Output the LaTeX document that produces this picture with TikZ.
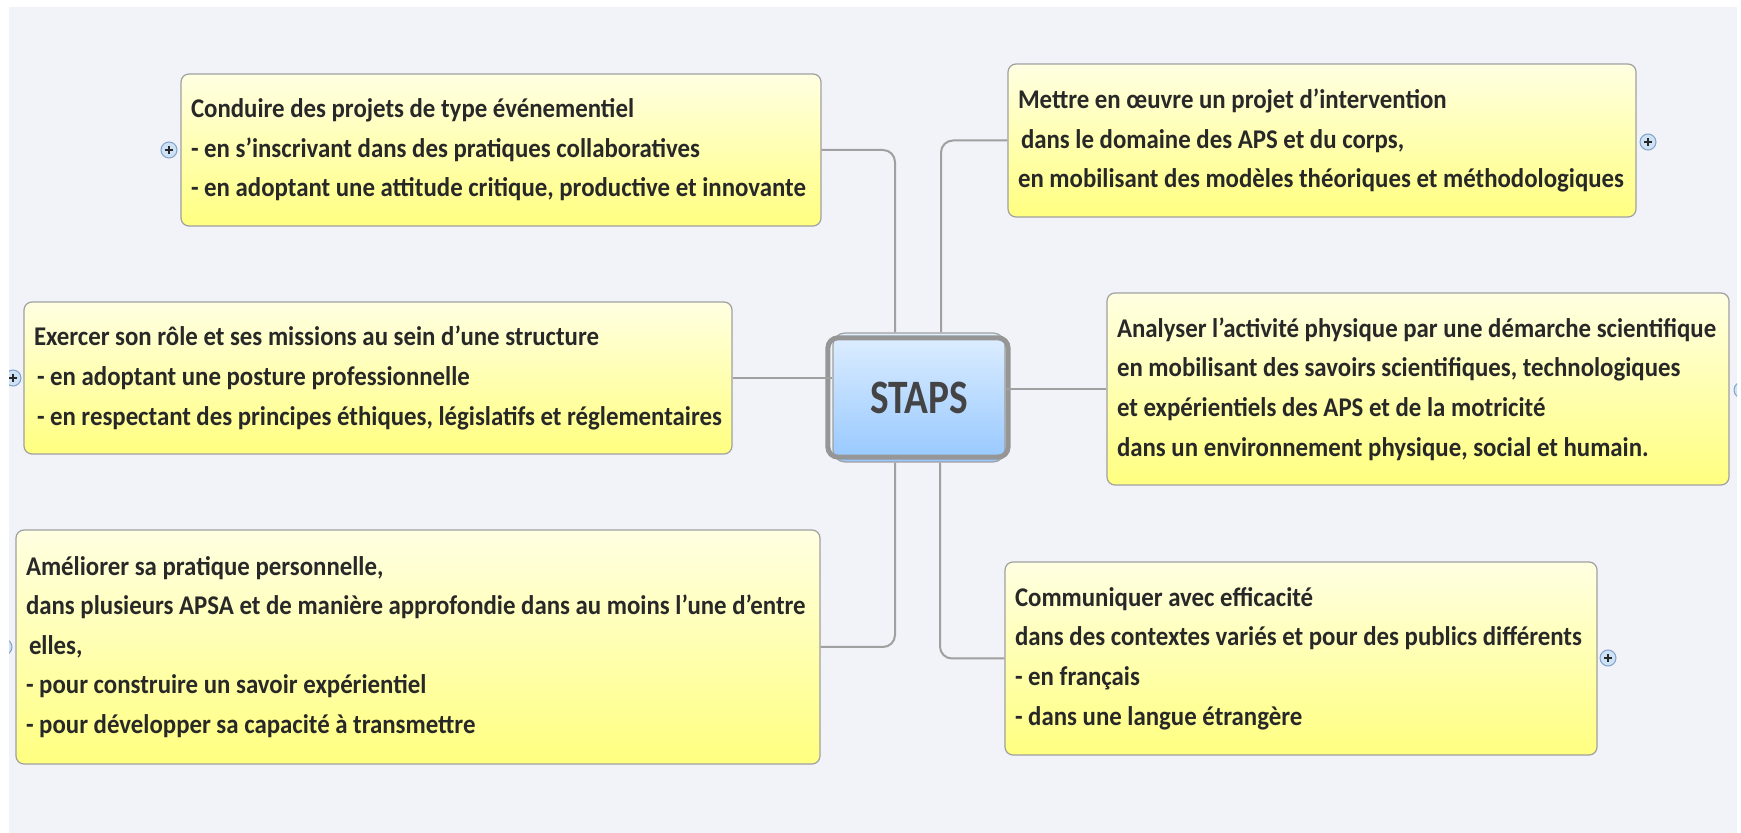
\documentclass[tikz,border=0pt]{standalone}
\usepackage{fontspec}
\setmainfont{Carlito}[FakeStretch=0.92]
\newfontfamily\rootfont{Carlito}[FakeStretch=0.82]
\definecolor{panelbg}{RGB}{242,243,248}
\definecolor{linegray}{RGB}{160,160,160}
\definecolor{boxtop}{RGB}{255,255,226}
\definecolor{boxbottom}{RGB}{255,255,128}
\definecolor{roottop}{RGB}{222,238,255}
\definecolor{rootbottom}{RGB}{150,200,255}
\definecolor{inktext}{RGB}{40,40,40}
\definecolor{iconfill}{RGB}{206,226,246}
\definecolor{iconedge}{RGB}{130,160,200}
\begin{document}
\begin{tikzpicture}[x=0.5pt,y=0.5pt,yscale=-1,xscale=1,
  topic/.style={draw=linegray, line width=0.6pt, rounded corners=4pt,
    top color=boxtop, bottom color=boxbottom, align=flush left, text=inktext,
    inner xsep=5pt, inner ysep=0pt,
    font=\fontsize{13.5}{19.8}\selectfont\bfseries},
  root/.style={draw=linegray, line width=0.6pt, rounded corners=6pt,
    top color=roottop, bottom color=rootbottom, text={rgb,255:red,68;green,68;blue,68},
    font=\rootfont\fontsize{24}{28}\selectfont\bfseries},
  conn/.style={draw=linegray, line width=1pt, rounded corners=6pt},
  plusicon/.style={fill=iconfill, draw=iconedge, line width=0.5pt}]
\useasboundingbox (0,0) rectangle (1741,833);
%Background panel
\fill [panelbg] (9,7) rectangle (1737,833);

% Text Node
\node [root, minimum width=86pt, minimum height=64.5pt] (staps) at (919,397.5) {STAPS};
%Selection frame
\draw [draw={rgb,255:red,150;green,150;blue,150}, line width=2.5pt, rounded corners=5pt]
  ([shift={(-2.25pt,2.75pt)}]staps.north west) rectangle ([shift={(1.25pt,-2.75pt)}]staps.south east);

% Text Node
\node [topic, minimum width=320pt, minimum height=76pt, text width=310pt] (conduire) at (501,150)
  {Conduire des projets de type événementiel\\
   - en s’inscrivant dans des pratiques collaboratives\\
   - en adoptant une attitude critique, productive et innovante};
% Text Node
\node [topic, minimum width=314pt, minimum height=76.5pt, text width=304pt] (mettre) at (1322,140.5)
  {Mettre en œuvre un projet d’intervention\\
   \hspace*{1.5pt}dans le domaine des APS et du corps,\\
   en mobilisant des modèles théoriques et méthodologiques};
% Text Node
\node [topic, minimum width=354pt, minimum height=76pt, text width=344pt] (exercer) at (378,378)
  {Exercer son rôle et ses missions au sein d'une structure\\
   \hspace*{1.5pt}- en adoptant une posture professionnelle\\
   \hspace*{1.5pt}- en respectant des principes éthiques, législatifs et réglementaires};
% Text Node
\node [topic, minimum width=311pt, minimum height=96pt, text width=301pt] (analyser) at (1418,389)
  {Analyser l’activité physique par une démarche scientifique\\
   en mobilisant des savoirs scientifiques, technologiques\\
   et expérientiels des APS et de la motricité\\
   dans un environnement physique, social et humain.};
% Text Node
\node [topic, minimum width=402pt, minimum height=117pt, text width=392pt] (ameliorer) at (418,647)
  {Améliorer sa pratique personnelle,\\
   dans plusieurs APSA et de manière approfondie dans au moins l’une d’entre\\
   \hspace*{1.5pt}elles,\\
   - pour construire un savoir expérientiel\\
   - pour développer sa capacité à transmettre};
% Text Node
\node [topic, minimum width=296pt, minimum height=96.5pt, text width=286pt] (communiquer) at (1301,658.5)
  {Communiquer avec efficacité\\
   dans des contextes variés et pour des publics différents\\
   - en français\\
   - dans une langue étrangère};

%Straight Lines
\draw [conn] (conduire.east) -| ([xshift=-12pt]staps.north);
\draw [conn] ([xshift=11pt]staps.north) |- (mettre.west);
\draw [conn] (exercer.east) -- (exercer.east -| staps.west);
\draw [conn] (analyser.west -| staps.east) -- (analyser.west);
\draw [conn] ([xshift=-12pt]staps.south) |- (ameliorer.east);
\draw [conn] ([xshift=10.5pt]staps.south) |- (communiquer.west);

%Flowchart: Connector
\begin{scope}
\clip (9,7) rectangle (1737,833);
\foreach \cx/\cy in {169/150,1648/142,13/378,1742/390,4/647,1608/658}{
  \draw [plusicon] (\cx,\cy) circle [radius=4pt];
  \draw [inktext, line width=0.6pt] (\cx-4,\cy) -- (\cx+4,\cy) (\cx,\cy-4) -- (\cx,\cy+4);
}
\end{scope}
\end{tikzpicture}
\end{document}
